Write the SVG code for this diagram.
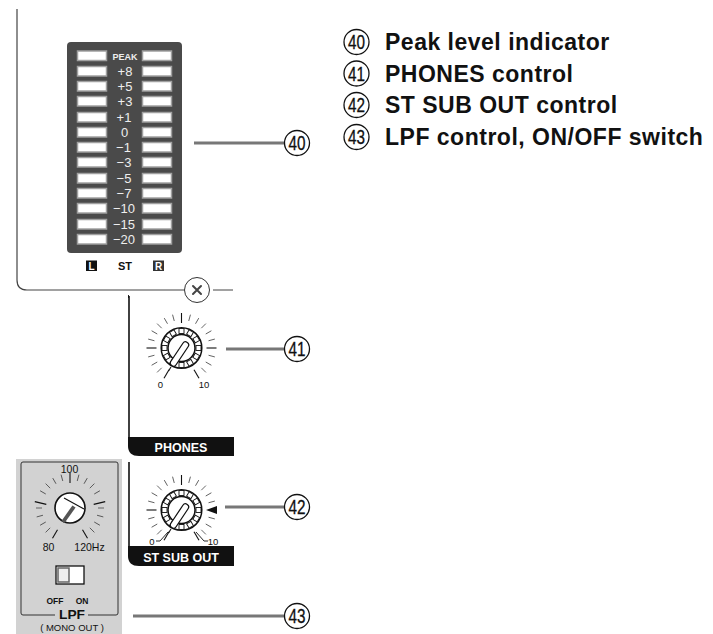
<svg xmlns="http://www.w3.org/2000/svg" width="713" height="634" viewBox="0 0 713 634">
<style>
text{font-family:"Liberation Sans",Arial,sans-serif;fill:#111}
.item{font-size:23px;font-weight:bold;letter-spacing:.5px}
.lvl{font-size:13px;fill:#eee;text-anchor:middle}
.led{fill:#fff;stroke:#a0a0a0;stroke-width:1.500}
.leader{stroke:#777;stroke-width:3;fill:none}
.frame{stroke:#444;stroke-width:1;fill:none}
.sm{font-size:9.500px;text-anchor:middle}
.lab{font-size:12.500px;font-weight:bold;fill:#fff;text-anchor:middle}
.num{font-size:20px;text-anchor:middle;stroke:#111;stroke-width:.3}
.cir{fill:#fff;stroke:#111;stroke-width:1.300}
.t{stroke:#333;stroke-width:.7}
.T{stroke:#111;stroke-width:1.100}
.lp{font-size:10.500px;text-anchor:middle}
.bd{font-size:8.500px;font-weight:bold;text-anchor:middle}
.sq{fill:#fff;stroke:#111;stroke-width:.9}
</style>
<defs>
<line id="s" class="t" x1="0" y1="-28" x2="0" y2="-34.500"/>
<line id="b" class="T" x1="0" y1="-25" x2="0" y2="-35"/>
<rect id="q" class="sq" x="-2.500" y="-19.500" width="5" height="5"/>
<g id="ticks">
<use href="#b" transform="rotate(-150)"/><use href="#s" transform="rotate(-135)"/><use href="#s" transform="rotate(-120)"/><use href="#s" transform="rotate(-105)"/><use href="#s" transform="rotate(-60)"/><use href="#s" transform="rotate(-45)"/><use href="#s" transform="rotate(-30)"/><use href="#s" transform="rotate(-15)"/><use href="#b"/><use href="#s" transform="rotate(15)"/><use href="#s" transform="rotate(30)"/><use href="#s" transform="rotate(45)"/><use href="#s" transform="rotate(60)"/><use href="#s" transform="rotate(105)"/><use href="#s" transform="rotate(120)"/><use href="#s" transform="rotate(135)"/><use href="#b" transform="rotate(150)"/>
</g>
<g id="dial">
<circle r="20.300" fill="#fff" stroke="#111" stroke-width="1.500"/>
<use href="#q"/><use href="#q" transform="rotate(30)"/><use href="#q" transform="rotate(60)"/><use href="#q" transform="rotate(90)"/><use href="#q" transform="rotate(120)"/><use href="#q" transform="rotate(150)"/><use href="#q" transform="rotate(180)"/><use href="#q" transform="rotate(210)"/><use href="#q" transform="rotate(240)"/><use href="#q" transform="rotate(270)"/><use href="#q" transform="rotate(300)"/><use href="#q" transform="rotate(330)"/>
<circle r="13.500" fill="#fff" stroke="#111" stroke-width="1.500"/>
<path d="M4 -3 L-8 15" stroke="#111" stroke-width="7.500" stroke-linecap="round"/>
<path d="M4 -3 L-8 15" stroke="#fff" stroke-width="5" stroke-linecap="round"/>
<path d="M-10.500 19 L-13 23" stroke="#111" stroke-width="1.100"/>
</g>
</defs>

<g id="connectors">
<path class="leader" d="M194 143H285"/>
<path class="leader" d="M226 349H285"/>
<path class="leader" d="M225 507H285"/>
<path class="leader" d="M133 616H285"/>
</g>

<g id="top-panel">
<path d="M17 9V280Q17 290 27 290H184" class="frame" style="stroke-width:1.200"/>
<path d="M213 290H233" class="frame"/>
<circle cx="197" cy="290" r="12.500" fill="#fff" stroke="#333" stroke-width="1"/>
<path d="M193 286L201 294M201 286L193 294" stroke="#444" stroke-width="2" stroke-linecap="round"/>
<line x1="128.500" y1="295" x2="128.500" y2="298" stroke="#222"/>
</g>

<g id="peak-indicator">
<rect x="67" y="42" width="115" height="211" rx="4" fill="#4a4a4a"/>
<rect class="led" x="77.500" y="51" width="29" height="9.500"/><rect class="led" x="142.500" y="51" width="29" height="9.500"/>
<rect class="led" x="77.500" y="66.500" width="29" height="9.500"/><rect class="led" x="142.500" y="66.500" width="29" height="9.500"/>
<rect class="led" x="77.500" y="81.500" width="29" height="9.500"/><rect class="led" x="142.500" y="81.500" width="29" height="9.500"/>
<rect class="led" x="77.500" y="96.500" width="29" height="9.500"/><rect class="led" x="142.500" y="96.500" width="29" height="9.500"/>
<rect class="led" x="77.500" y="112.500" width="29" height="9.500"/><rect class="led" x="142.500" y="112.500" width="29" height="9.500"/>
<rect class="led" x="77.500" y="127.500" width="29" height="9.500"/><rect class="led" x="142.500" y="127.500" width="29" height="9.500"/>
<rect class="led" x="77.500" y="142.500" width="29" height="9.500"/><rect class="led" x="142.500" y="142.500" width="29" height="9.500"/>
<rect class="led" x="77.500" y="157.500" width="29" height="9.500"/><rect class="led" x="142.500" y="157.500" width="29" height="9.500"/>
<rect class="led" x="77.500" y="173.500" width="29" height="9.500"/><rect class="led" x="142.500" y="173.500" width="29" height="9.500"/>
<rect class="led" x="77.500" y="188.500" width="29" height="9.500"/><rect class="led" x="142.500" y="188.500" width="29" height="9.500"/>
<rect class="led" x="77.500" y="203.500" width="29" height="9.500"/><rect class="led" x="142.500" y="203.500" width="29" height="9.500"/>
<rect class="led" x="77.500" y="219.500" width="29" height="9.500"/><rect class="led" x="142.500" y="219.500" width="29" height="9.500"/>
<rect class="led" x="77.500" y="234.500" width="29" height="9.500"/><rect class="led" x="142.500" y="234.500" width="29" height="9.500"/>
<text class="lvl" x="125" y="60" style="font-size:9px;font-weight:bold">PEAK</text>
<text class="lvl" x="125" y="76">+8</text>
<text class="lvl" x="125" y="91">+5</text>
<text class="lvl" x="125" y="106">+3</text>
<text class="lvl" x="124" y="122">+1</text>
<text class="lvl" x="124.500" y="137">0</text>
<text class="lvl" x="123.500" y="152">−1</text>
<text class="lvl" x="124" y="167">−3</text>
<text class="lvl" x="124" y="183">−5</text>
<text class="lvl" x="124" y="198">−7</text>
<text class="lvl" x="124" y="213">−10</text>
<text class="lvl" x="124" y="229">−15</text>
<text class="lvl" x="124" y="244">−20</text>
<rect x="86" y="260.500" width="11" height="10.500" fill="#111"/>
<text x="91.500" y="270" style="font-size:10px;font-weight:bold;fill:#fff;text-anchor:middle">L</text>
<text x="125" y="270" style="font-size:11px;font-weight:bold;text-anchor:middle">ST</text>
<rect x="153" y="260.500" width="11" height="10.500" fill="#333"/>
<text x="158.500" y="270" style="font-size:10px;font-weight:bold;fill:#fff;text-anchor:middle">R</text>
</g>

<g id="phones">
<path d="M129 296V437" stroke="#111" stroke-width="1.600" fill="none"/>
<path d="M128 437H234V456H139Q128 456 128 446Z" fill="#111"/>
<text class="lab" x="181" y="452">PHONES</text>
<g transform="translate(181.500 348)">
<use href="#ticks"/>
<use href="#b" transform="rotate(-90)"/><use href="#b" transform="rotate(90)"/><use href="#s" transform="rotate(-75)"/><use href="#s" transform="rotate(75)"/>
<use href="#dial"/>
</g>
<text class="sm" x="160.500" y="388">0</text>
<text class="sm" x="204" y="388">10</text>
</g>

<g id="st-sub-out">
<path d="M129 462V546" stroke="#111" stroke-width="1.600" fill="none"/>
<path d="M128 546H234V566H139Q128 566 128 556Z" fill="#111"/>
<text class="lab" x="181" y="562">ST SUB OUT</text>
<g transform="translate(181.500 510)">
<use href="#ticks"/>
<use href="#b" transform="rotate(-90)"/><use href="#s" transform="rotate(-75)"/><use href="#s" transform="rotate(75)"/><use href="#s" transform="rotate(90)"/>
<use href="#dial"/>
</g>
<path d="M168 532L160 541H156M196 532L204 541H208" fill="none" stroke="#111" stroke-width=".9"/>
<text class="sm" x="152" y="545">0</text>
<text class="sm" x="213" y="545">10</text>
<path d="M206 510L217 506V514Z" fill="#111"/>
</g>

<g id="lpf">
<rect x="16" y="459" width="106" height="175" fill="#d2d2d2"/>
<path d="M55 615H23Q21 615 21 613V464Q21 462 23 462H116Q118 462 118 464V613Q118 615 116 615H88" fill="none" stroke="#333" stroke-width="1"/>
<use href="#ticks" transform="translate(70 508)"/>
<path d="M34.800 501.700L46.300 504.300M105.200 501.700L93.700 504.300" stroke="#111" stroke-width="1.200"/>
<path d="M36 508H42M98 508H104" stroke="#333" stroke-width=".7"/>
<circle cx="70" cy="508" r="15" fill="#fff" stroke="#111" stroke-width="1.600"/>
<path d="M63 522L74 506.500" stroke="#555" stroke-width="3.800"/>
<path d="M64 498L84 509" stroke="#111" stroke-width="1.100"/>
<text class="lp" x="69.500" y="472.500">100</text>
<text class="lp" x="48.500" y="550.500">80</text>
<text class="lp" x="89.500" y="550.500">120Hz</text>
<rect x="56" y="566" width="28" height="18" fill="#fff" stroke="#111" stroke-width="1.300"/>
<rect x="58" y="568" width="11" height="14" fill="#eee" stroke="#666" stroke-width="1.500"/>
<text class="bd" x="55" y="604">OFF</text>
<text class="bd" x="82" y="604">ON</text>
<text x="72" y="619" style="font-size:12.500px;font-weight:bold;text-anchor:middle" textLength="26" lengthAdjust="spacingAndGlyphs">LPF</text>
<text x="72" y="631" style="font-size:9.500px;text-anchor:middle">( MONO OUT )</text>
</g>

<g id="callout-40"><circle class="cir" cx="297" cy="143" r="12.500"/><text class="num" x="297" y="150" textLength="17" lengthAdjust="spacingAndGlyphs">40</text></g>
<g id="callout-41"><circle class="cir" cx="297" cy="349" r="12.500"/><text class="num" x="297" y="356" textLength="17" lengthAdjust="spacingAndGlyphs">41</text></g>
<g id="callout-42"><circle class="cir" cx="297" cy="507" r="12.500"/><text class="num" x="297" y="514" textLength="17" lengthAdjust="spacingAndGlyphs">42</text></g>
<g id="callout-43"><circle class="cir" cx="297" cy="616" r="12.500"/><text class="num" x="297" y="623" textLength="17" lengthAdjust="spacingAndGlyphs">43</text></g>

<g id="legend">
<circle class="cir" cx="356.500" cy="42" r="12.500"/><text class="num" x="356.500" y="49" textLength="17" lengthAdjust="spacingAndGlyphs">40</text>
<text class="item" x="385" y="49.500">Peak level indicator</text>
<circle class="cir" cx="356.500" cy="73.500" r="12.500"/><text class="num" x="356.500" y="80.500" textLength="17" lengthAdjust="spacingAndGlyphs">41</text>
<text class="item" x="385" y="81.500">PHONES control</text>
<circle class="cir" cx="356.500" cy="105" r="12.500"/><text class="num" x="356.500" y="112" textLength="17" lengthAdjust="spacingAndGlyphs">42</text>
<text class="item" x="385" y="113">ST SUB OUT control</text>
<circle class="cir" cx="356.500" cy="137" r="12.500"/><text class="num" x="356.500" y="144" textLength="17" lengthAdjust="spacingAndGlyphs">43</text>
<text class="item" x="385" y="145">LPF control, ON/OFF switch</text>
</g>
</svg>
